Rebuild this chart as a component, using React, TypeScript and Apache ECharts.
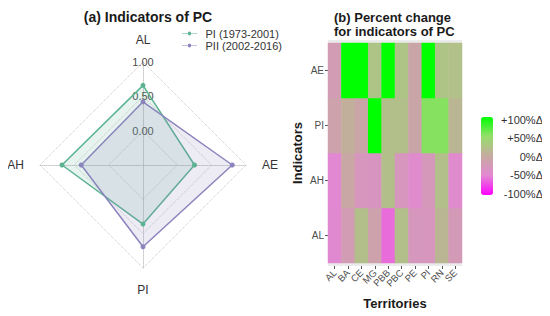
import React, { useEffect, useRef } from "react";
import * as echarts from "echarts";

const FONT = "Liberation Sans, Arial, Helvetica, sans-serif";

// Radar (a)
const radarAxes = ["AL", "AH", "PI", "AE"];
const radarMin = -0.5;
const radarMax = 1.0;
const seriesNames = ["PI (1973-2001)", "PII (2002-2016)"];
const periodI = [0.66, 0.68, 0.36, 0.25];
const periodII = [0.42, 0.4, 0.69, 0.8];

// Heatmap (b)
const territories = ["AL", "BA", "CE", "MG", "PBB", "PBC", "PE", "PI", "RN", "SE"];
const indicators = ["AL", "AH", "PI", "AE"]; // bottom to top
const rowAE = [-20, 100, 100, 25, 100, 25, -8, 100, 25, 22];
const rowPI = [-12, 5, -8, 100, 20, 20, -8, 55, 55, 12];
const rowAH = [-50, -5, -30, -33, 20, -30, -46, -26, 20, -46];
const rowAL = [-48, -20, 20, -12, -60, 20, -28, -30, 12, -24];
const legendLabels = ["+100%Δ", "+50%Δ", "0%Δ", "-50%Δ", "-100%Δ"];

export default function App() {
  const ref = useRef<HTMLDivElement>(null);
  useEffect(() => {
    if (!ref.current) return;
    const chart = echarts.init(ref.current, null, { renderer: "svg" });
    const rows = [rowAL, rowAH, rowPI, rowAE];
    const heatData: number[][] = [];
    rows.forEach((row, yi) => row.forEach((v, xi) => heatData.push([xi, yi, v])));

    const legendTextGraphics = legendLabels.map((t, i) => ({
      type: "text",
      right: 7,
      top: 114 + i * 18.5,
      style: { text: t, fill: "#333", font: `11px ${FONT}`, textAlign: "right" },
    }));

    const option: any = {
      animation: false,
      backgroundColor: "#fff",
      textStyle: { fontFamily: FONT },
      title: [
        {
          text: "(a) Indicators of PC",
          left: 143,
          top: 5,
          textAlign: "center",
          textStyle: { fontSize: 14, fontWeight: "bold", color: "#1a1a1a", fontFamily: FONT },
        },
        {
          text: "(b) Percent change\nfor indicators of PC",
          left: 329,
          top: 5,
          textStyle: { fontSize: 13, fontWeight: "bold", color: "#1a1a1a", lineHeight: 14, fontFamily: FONT },
        },
      ],
      legend: {
        orient: "vertical",
        left: 177,
        top: 23,
        itemGap: 1,
        itemWidth: 18,
        itemHeight: 4,
        textStyle: { fontSize: 11, color: "#333", fontFamily: FONT, padding: [0, 0, 0, 2] },
        data: seriesNames.map((n) => ({
          name: n,
          icon: "path://M0,1.6 L7,1.6 A2,2 0 0 1 11,1.6 L18,1.6 L18,2.4 L11,2.4 A2,2 0 0 1 7,2.4 L0,2.4 Z",
        })),
      },
      radar: {
        center: [143, 165],
        radius: 103,
        startAngle: 90,
        splitNumber: 3,
        shape: "polygon",
        indicator: radarAxes.map((n, i) => ({
          name: n,
          min: radarMin,
          max: radarMax,
          axisLabel:
            i === 0
              ? {
                  show: true,
                  margin: 0,
                  align: "center",
                  verticalAlign: "middle",
                  color: "#4d4d4d",
                  fontSize: 11,
                  fontFamily: FONT,
                  formatter: (v: number) => (v <= radarMin + 1e-9 ? "" : v.toFixed(2)),
                }
              : { show: false },
        })),
        axisName: { color: "#333", fontSize: 12, fontFamily: FONT },
        nameGap: 16,
        splitArea: { show: false },
        splitLine: { lineStyle: { color: "#c8c8c8", type: "dotted", width: 1 } },
        axisLine: { lineStyle: { color: "#c8c8c8", type: "dotted", width: 1 } },
        axisTick: { show: false },
        axisLabel: { show: false },
      },
      grid: { left: 328, right: 88, top: 43, bottom: 53, containLabel: false },
      xAxis: {
        type: "category",
        data: territories,
        offset: 3,
        axisLine: { show: false },
        axisTick: { show: true, length: 3, alignWithLabel: true, lineStyle: { color: "#555" } },
        axisLabel: { rotate: 45, fontSize: 9.5, color: "#4d4d4d", margin: 5, interval: 0, fontFamily: FONT },
        name: "Territories",
        nameLocation: "middle",
        nameGap: 31,
        nameTextStyle: { fontSize: 13, fontWeight: "bold", color: "#1a1a1a", fontFamily: FONT },
        splitLine: { show: false },
      },
      yAxis: {
        type: "category",
        data: indicators,
        axisLine: { show: false },
        axisTick: { show: true, length: 3, alignWithLabel: true, lineStyle: { color: "#555" } },
        axisLabel: { fontSize: 10, color: "#4d4d4d", margin: 4, fontFamily: FONT },
        name: "Indicators",
        nameLocation: "middle",
        nameRotate: 90,
        nameGap: 24,
        nameTextStyle: { fontSize: 13, fontWeight: "bold", color: "#1a1a1a", fontFamily: FONT },
        splitLine: { show: false },
      },
      visualMap: {
        type: "continuous",
        min: -100,
        max: 100,
        seriesIndex: 1,
        left: 481,
        top: 117,
        padding: 0,
        itemWidth: 12,
        itemHeight: 78,
        calculable: false,
        hoverLink: false,
        text: null,
        inRange: { color: ["#ff00ff", "#e288d2", "#c6aaa0", "#96de6b", "#00ff00"] },
      },
      graphic: [
        {
          type: "rect",
          shape: { x: 328, y: 40, width: 134, height: 226 },
          style: { fill: "#ebebeb" },
          z: -10,
          silent: true,
        },
        ...legendTextGraphics,
      ],
      series: [
        {
          type: "radar",
          symbol: "circle",
          symbolSize: 5,
          data: [
            {
              name: seriesNames[0],
              value: periodI,
              itemStyle: { color: "#5cb392" },
              lineStyle: { color: "#5cb392", width: 1.5 },
              areaStyle: { color: "rgba(92,179,146,0.22)" },
            },
            {
              name: seriesNames[1],
              value: periodII,
              itemStyle: { color: "#8b85bd" },
              lineStyle: { color: "#8b85bd", width: 1.5 },
              areaStyle: { color: "rgba(139,133,189,0.22)" },
            },
          ],
        },
        {
          type: "heatmap",
          data: heatData,
          itemStyle: { borderWidth: 0 },
        },
      ],
    };
    chart.setOption(option);
    return () => chart.dispose();
  }, []);
  return <div ref={ref} style={{ width: 550, height: 316, margin: -8 }} />;
}
